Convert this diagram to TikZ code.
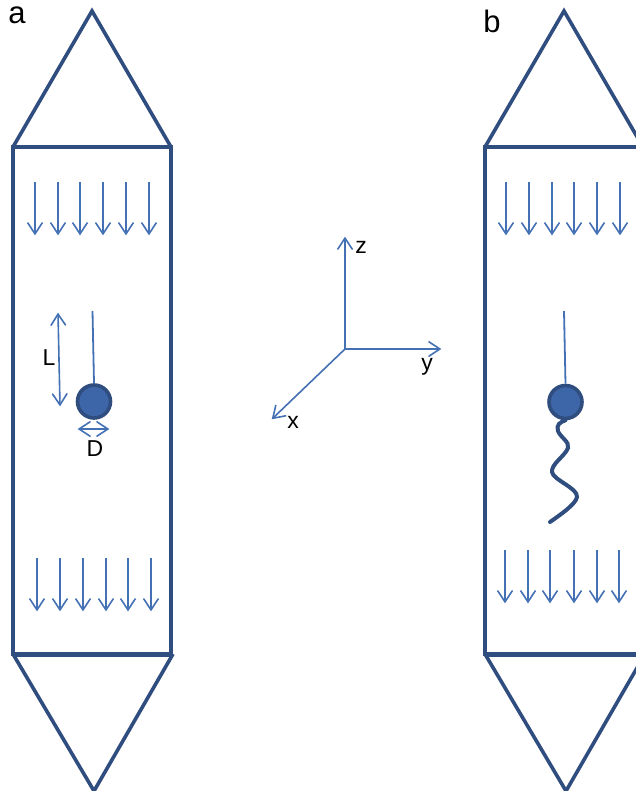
\documentclass[tikz,border=0pt]{standalone}
\usepackage{fontspec}
\setmainfont{Liberation Sans}
\usetikzlibrary{arrows.meta}
\definecolor{navyline}{HTML}{2F4D7E}
\definecolor{bluefill}{HTML}{3D66A8}
\definecolor{bluearrow}{HTML}{4470B4}
\pgfdeclarearrow{
  name=VBarb,
  setup code={
    \pgfarrowssettipend{1.1pt}
    \pgfarrowssetlineend{-0.5pt}
    \pgfarrowssetvisualbackend{-11pt}
    \pgfarrowssetbackend{-12pt}
    \pgfarrowshullpoint{1.1pt}{0pt}
    \pgfarrowshullpoint{-12pt}{8pt}
    \pgfarrowshullpoint{-12pt}{-8pt}
  },
  drawing code={
    \pgfsetlinewidth{1.6pt}
    \pgfsetroundcap
    \pgfsetmiterjoin
    \pgfsetdash{}{0pt}
    \pgfpathmoveto{\pgfqpoint{-11pt}{7.2pt}}
    \pgfpathlineto{\pgfqpoint{0pt}{0pt}}
    \pgfpathlineto{\pgfqpoint{-11pt}{-7.2pt}}
    \pgfusepathqstroke
  }
}
\tikzset{
  frame/.style={draw=navyline,line width=4pt,line join=miter},
  base/.style={draw=navyline,line width=5pt},
  cone/.style={draw=navyline,line width=3.6pt,line join=miter},
  flow/.style={draw=bluearrow,line width=1.6pt,-{VBarb}},
  flowboth/.style={draw=bluearrow,line width=1.6pt,{VBarb}-{VBarb}},
  rod/.style={draw=bluearrow,line width=1.8pt},
  bead/.style={circle,draw=navyline,fill=bluefill,line width=3.6pt,minimum size=33pt,inner sep=0pt},
  lab/.style={text=black,font=\fontsize{23}{23}\selectfont,inner sep=0pt},
  panel/.style={text=black,font=\fontsize{31}{31}\selectfont,inner sep=0pt}
}
\begin{document}
\begin{tikzpicture}[x=1pt,y=-1pt]
\useasboundingbox (0,0) rectangle (636,791);
% panel a
\draw[cone] (13,147) -- (92,11) -- (171,147);
\draw[frame] (13,147) -- (171,147) -- (171,654) -- (13,654) -- cycle;
\draw[base] (13,654) -- (173,654);
\draw[cone] (13,654) -- (94,791) -- (173,654);
\foreach \x in {35,58,80,103,126,149}{\draw[flow] (\x,182) -- (\x,235);}
\foreach \x in {37,60,83,106,128,151}{\draw[flow] (\x,558) -- (\x,611);}
\node[bead] (beadA) at (94,401.5) {};
\coordinate (rodA) at (92.5,311);
\draw[rod] (rodA) -- (beadA.north);
\coordinate (Ltop) at (58,313);
\coordinate (Lbot) at (60,406);
\draw[flowboth] (Ltop) -- (Lbot);
\coordinate (Dl) at (78,429);
\coordinate (Dr) at (109,429);
\draw[flowboth] (Dl) -- (Dr);
\node[lab] (L) at (49,358) {L};
\node[lab] (D) at (95,449) {D};
\node[panel] (a) at (17,15) {a};
% panel b
\draw[cone] (485,147) -- (564,11) -- (643,147);
\draw[frame] (485,147) -- (643,147) -- (643,654) -- (485,654) -- cycle;
\draw[base] (485,654) -- (645,654);
\draw[cone] (485,654) -- (566,791) -- (645,654);
\foreach \x in {506,529,552,574,597,620}{\draw[flow] (\x,182) -- (\x,235);}
\foreach \x in {505,528,550,574,597,619}{\draw[flow] (\x,550) -- (\x,603);}
\node[bead] (beadB) at (565.5,402) {};
\coordinate (rodB) at (564,311);
\draw[rod] (rodB) -- (beadB.north);
\draw[navyline,line width=4pt,line cap=round]
  (beadB.south) .. controls (560,422) and (556,425) .. (558,431)
  .. controls (560,437) and (570,442) .. (568,448)
  .. controls (565,456) and (551,464) .. (552,472)
  .. controls (553,480) and (578,488) .. (577,497)
  .. controls (576,504) and (560,515) .. (550,522);
\node[panel] (b) at (492,21) {b};
% axes
\coordinate (O) at (345,349);
\coordinate (zend) at (345,237);
\coordinate (yend) at (441,349);
\coordinate (xend) at (272,419);
\draw[flow] (O) -- (zend);
\draw[flow] (O) -- (yend);
\draw[flow] (O) -- (xend);
\node[lab] (z) at (361,247) {z};
\node[lab] (y) at (427,367) {y};
\node[lab] (x) at (293,422) {x};
\end{tikzpicture}
\end{document}
